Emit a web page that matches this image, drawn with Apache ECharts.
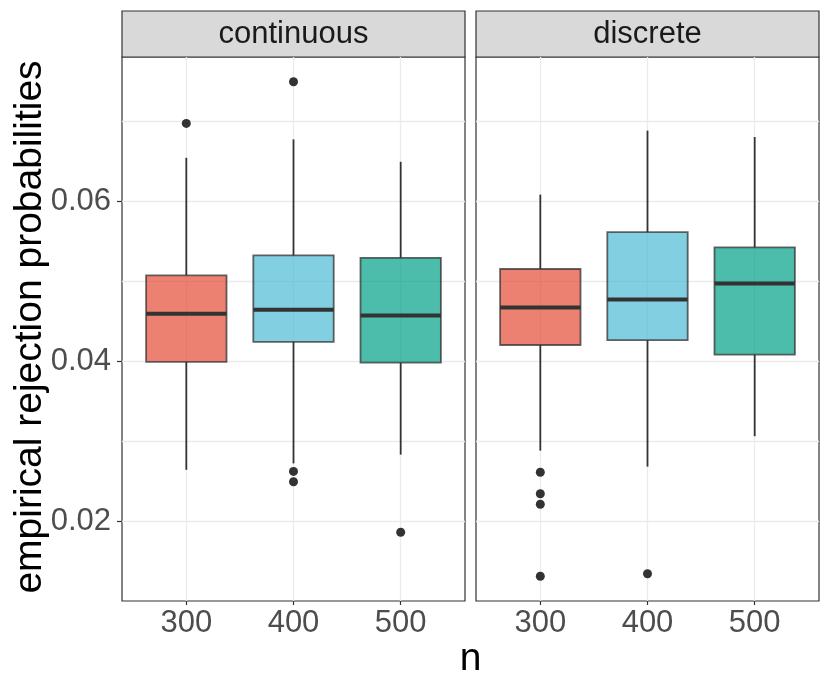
<!DOCTYPE html>
<html>
<head>
<meta charset="utf-8">
<title>empirical rejection probabilities</title>
<script src="https://cdn.jsdelivr.net/npm/echarts@6/dist/echarts.min.js"></script>
<style>
  html, body { margin: 0; padding: 0; background: #fff; }
  #chart { width: 830px; height: 692px; }
</style>
</head>
<body>
<div id="chart"></div>
<script type="text/javascript">
    // sample sizes on the x axis
    var nLabels = ['300', '400', '500'];
    var panelNames = ['continuous', 'discrete'];

    // box stats per n: [lower whisker, Q1, median, Q3, upper whisker]
    var contStats = [
        [0.0264, 0.0399, 0.0459, 0.0507, 0.0654],
        [0.0272, 0.0424, 0.0464, 0.0532, 0.0677],
        [0.0283, 0.0398, 0.0457, 0.0529, 0.0649]
    ];
    var discStats = [
        [0.0288, 0.0420, 0.0467, 0.0515, 0.0608],
        [0.0268, 0.0426, 0.0477, 0.0561, 0.0688],
        [0.0306, 0.0408, 0.0497, 0.0542, 0.0680]
    ];
    // outliers: [n, value]
    var contOutliers = [['300', 0.0697], ['400', 0.0749], ['400', 0.0262], ['400', 0.0249], ['500', 0.0186]];
    var discOutliers = [['300', 0.0261], ['300', 0.0234], ['300', 0.0221], ['300', 0.0131], ['400', 0.0134]];

    // axis breaks
    var yLabelBreaks = [0.02, 0.04, 0.06];
    var yGridBreaks = [0.02, 0.03, 0.04, 0.05, 0.06, 0.07];
    var yMin = 0.0100, yMax = 0.0780;

    var fills = ['rgba(230,75,53,0.7)', 'rgba(77,187,213,0.7)', 'rgba(0,160,135,0.7)'];
    var boxWidth = 0.75;
    var font = 'Liberation Sans, Arial, Helvetica, sans-serif';

    function boxData(stats) {
        return stats.map(function (s, i) { return [i + 1].concat(s); });
    }
    function outlierData(list) {
        return list.map(function (o) { return [nLabels.indexOf(o[0]) + 1, o[1]]; });
    }

    function renderBox(params, api) {
        var x = api.value(0);
        var lo = api.coord([x, api.value(1)]);
        var q1 = api.coord([x, api.value(2)]);
        var med = api.coord([x, api.value(3)]);
        var q3 = api.coord([x, api.value(4)]);
        var hi = api.coord([x, api.value(5)]);
        var half = api.size([boxWidth, 0])[0] / 2;
        var lineStyle = { stroke: '#333333', lineWidth: 1.8 };
        return {
            type: 'group',
            children: [
                { type: 'line', shape: { x1: lo[0], y1: lo[1], x2: q1[0], y2: q1[1] }, style: lineStyle },
                { type: 'line', shape: { x1: q3[0], y1: q3[1], x2: hi[0], y2: hi[1] }, style: lineStyle },
                { type: 'rect',
                  shape: { x: q3[0] - half, y: q3[1], width: half * 2, height: q1[1] - q3[1] },
                  style: { fill: fills[x - 1], stroke: 'rgba(51,51,51,0.75)', lineWidth: 1.8 } },
                { type: 'line', shape: { x1: med[0] - half, y1: med[1], x2: med[0] + half, y2: med[1] },
                  style: { stroke: '#333333', lineWidth: 4 } }
            ]
        };
    }

    function xAxisFor(gridIndex) {
        return {
            type: 'value', gridIndex: gridIndex, min: 0.4, max: 3.6,
            axisLine: { show: false },
            axisTick: { show: true, length: 4, customValues: [1, 2, 3], lineStyle: { color: '#333333', width: 1.2 } },
            axisLabel: {
                customValues: [1, 2, 3], margin: 7, fontSize: 31, color: '#4D4D4D', fontFamily: font,
                formatter: function (v) { return nLabels[Math.round(v) - 1]; }
            },
            splitLine: { show: true, lineStyle: { color: '#EBEBEB', width: 1.3 } }
        };
    }

    function gridAxisFor(gridIndex) {
        return {
            type: 'value', gridIndex: gridIndex, min: yMin, max: yMax, position: 'left',
            axisLine: { show: false },
            axisTick: { show: false, customValues: yGridBreaks },
            axisLabel: { show: false },
            splitLine: { show: true, lineStyle: { color: '#EBEBEB', width: 1.3 } }
        };
    }

    var chart = echarts.init(document.getElementById('chart'), null, { renderer: 'canvas' });

    var option = {
        animation: false,
        backgroundColor: '#ffffff',
        grid: [
            { left: 122, top: 57, width: 343, height: 544, show: true, borderColor: '#333333', borderWidth: 1.2, backgroundColor: '#ffffff' },
            { left: 476, top: 57, width: 343, height: 544, show: true, borderColor: '#333333', borderWidth: 1.2, backgroundColor: '#ffffff' }
        ],
        xAxis: [xAxisFor(0), xAxisFor(1)],
        yAxis: [
            gridAxisFor(0),
            {
                type: 'value', gridIndex: 0, min: yMin, max: yMax, position: 'left',
                axisLine: { show: false },
                axisTick: { show: true, length: 5, customValues: yLabelBreaks, lineStyle: { color: '#333333', width: 1.2 } },
                axisLabel: {
                    customValues: yLabelBreaks, margin: 11, fontSize: 31, color: '#4D4D4D', fontFamily: font,
                    formatter: function (v) { return v.toFixed(2); }
                },
                splitLine: { show: false }
            },
            gridAxisFor(1)
        ],
        series: [
            { type: 'custom', xAxisIndex: 0, yAxisIndex: 0, renderItem: renderBox, data: boxData(contStats), z: 3 },
            { type: 'custom', xAxisIndex: 1, yAxisIndex: 2, renderItem: renderBox, data: boxData(discStats), z: 3 },
            { type: 'scatter', xAxisIndex: 0, yAxisIndex: 0, symbolSize: 9, itemStyle: { color: '#333333', opacity: 1 }, data: outlierData(contOutliers), z: 4 },
            { type: 'scatter', xAxisIndex: 1, yAxisIndex: 2, symbolSize: 9, itemStyle: { color: '#333333', opacity: 1 }, data: outlierData(discOutliers), z: 4 }
        ],
        graphic: [
            { type: 'rect', shape: { x: 122, y: 11, width: 343, height: 46 }, style: { fill: '#D9D9D9', stroke: '#333333', lineWidth: 1.2 } },
            { type: 'rect', shape: { x: 476, y: 11, width: 343, height: 46 }, style: { fill: '#D9D9D9', stroke: '#333333', lineWidth: 1.2 } },
            { type: 'text', x: 293.5, y: 34, style: { text: panelNames[0], fontSize: 31, fontFamily: font, fill: '#1A1A1A', align: 'center', verticalAlign: 'middle' } },
            { type: 'text', x: 647.5, y: 34, style: { text: panelNames[1], fontSize: 31, fontFamily: font, fill: '#1A1A1A', align: 'center', verticalAlign: 'middle' } },
            { type: 'text', x: 30, y: 327, rotation: Math.PI / 2, style: { text: 'empirical rejection probabilities', fontSize: 39, fontFamily: font, fill: '#000000', align: 'center', verticalAlign: 'middle' } },
            { type: 'text', x: 470.5, y: 659, style: { text: 'n', fontSize: 39, fontFamily: font, fill: '#000000', align: 'center', verticalAlign: 'middle' } }
        ]
    };

    chart.setOption(option);
</script>
</body>
</html>
